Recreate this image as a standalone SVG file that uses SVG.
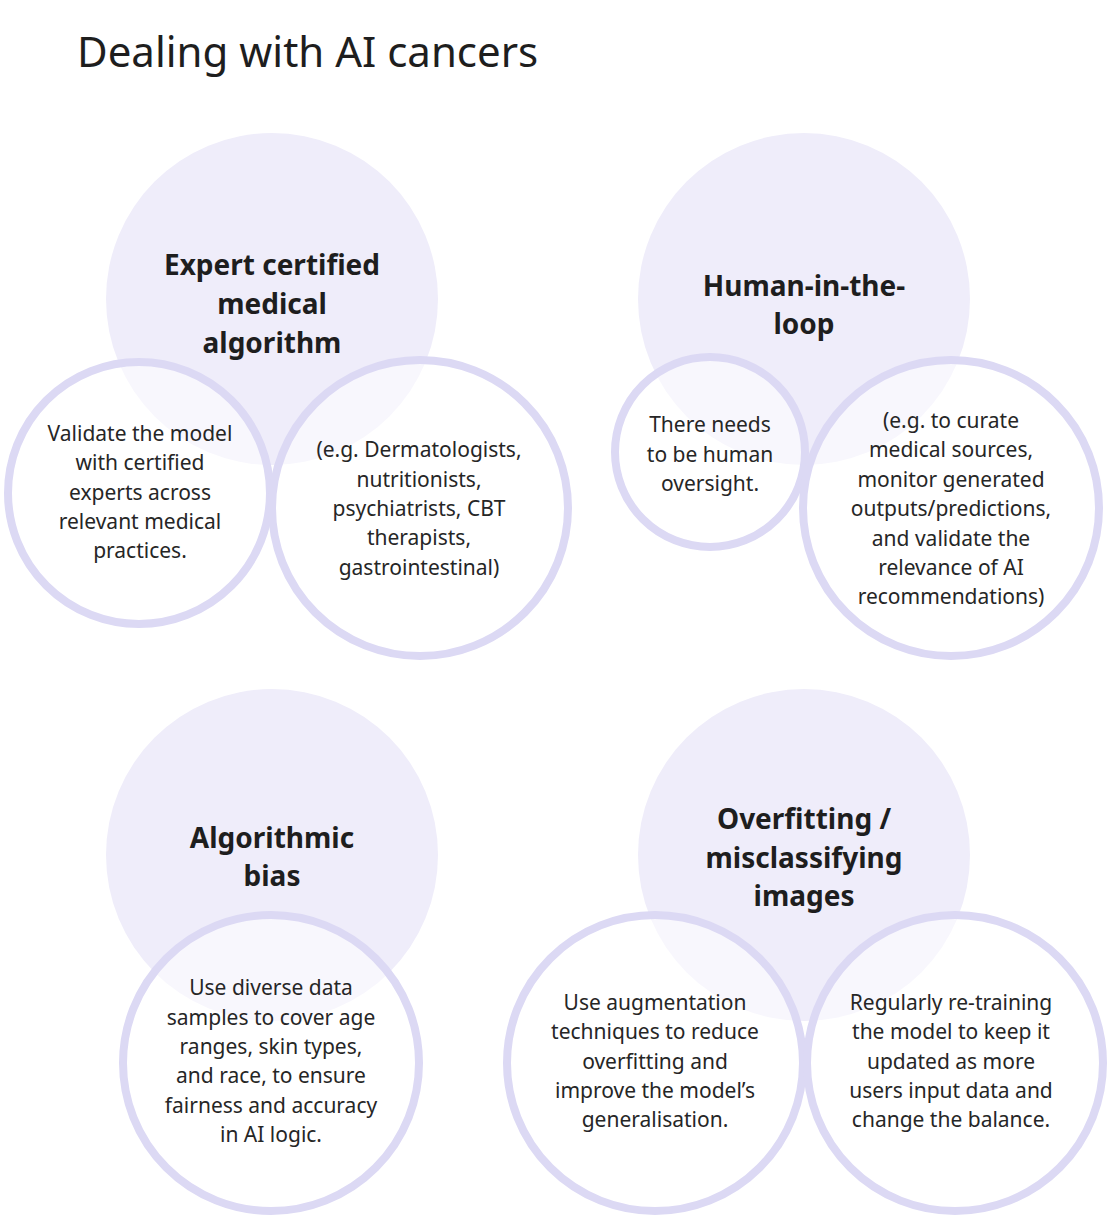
<svg xmlns="http://www.w3.org/2000/svg" width="1111" height="1230" viewBox="0 0 1111 1230">
<style>
.big{fill:#efedfa}
.small{fill:#ffffff;fill-opacity:0.55;stroke:#dcd9f4;stroke-width:8}
.title{font-family:"Noto Sans","Liberation Sans",sans-serif;font-size:42px;fill:#1e1e1e}
.head{font-family:"Noto Sans","Liberation Sans",sans-serif;font-size:28px;font-weight:bold;fill:#1e1e1e;text-anchor:middle}
.body{font-family:"Noto Sans","Liberation Sans",sans-serif;font-size:21px;fill:#262626;text-anchor:middle}
</style>
<rect width="1111" height="1230" fill="#ffffff"/>
<text class="title" x="77" y="67">Dealing with AI cancers</text>

<g id="group-expert">
<circle class="big" cx="272" cy="299" r="166"/>
<text class="head" x="272" y="275">Expert certified</text>
<text class="head" x="272" y="314">medical</text>
<text class="head" x="272" y="353">algorithm</text>
</g>
<g id="node-validate">
<circle class="small" cx="139" cy="493" r="131"/>
<text class="body" x="140" y="441">Validate the model</text>
<text class="body" x="140" y="470">with certified</text>
<text class="body" x="140" y="500">experts across</text>
<text class="body" x="140" y="529">relevant medical</text>
<text class="body" x="140" y="558">practices.</text>
</g>
<g id="node-eg-derm">
<circle class="small" cx="420" cy="508" r="148"/>
<text class="body" x="419" y="457">(e.g. Dermatologists,</text>
<text class="body" x="419" y="487">nutritionists,</text>
<text class="body" x="419" y="516">psychiatrists, CBT</text>
<text class="body" x="419" y="545">therapists,</text>
<text class="body" x="419" y="575">gastrointestinal)</text>
</g>

<g id="group-human">
<circle class="big" cx="804" cy="299" r="166"/>
<text class="head" x="804" y="296">Human-in-the-</text>
<text class="head" x="804" y="334">loop</text>
</g>
<g id="node-oversight">
<circle class="small" cx="710" cy="452" r="95"/>
<text class="body" x="710" y="432">There needs</text>
<text class="body" x="710" y="462">to be human</text>
<text class="body" x="710" y="491">oversight.</text>
</g>
<g id="node-eg-curate">
<circle class="small" cx="951" cy="508" r="148"/>
<text class="body" x="951" y="428">(e.g. to curate</text>
<text class="body" x="951" y="457">medical sources,</text>
<text class="body" x="951" y="487">monitor generated</text>
<text class="body" x="951" y="516">outputs/predictions,</text>
<text class="body" x="951" y="546">and validate the</text>
<text class="body" x="951" y="575">relevance of AI</text>
<text class="body" x="951" y="604">recommendations)</text>
</g>

<g id="group-bias">
<circle class="big" cx="272" cy="855" r="166"/>
<text class="head" x="272" y="848">Algorithmic</text>
<text class="head" x="272" y="886">bias</text>
</g>
<g id="node-diverse">
<circle class="small" cx="271" cy="1063" r="148"/>
<text class="body" x="271" y="995">Use diverse data</text>
<text class="body" x="271" y="1025">samples to cover age</text>
<text class="body" x="271" y="1054">ranges, skin types,</text>
<text class="body" x="271" y="1083">and race, to ensure</text>
<text class="body" x="271" y="1113">fairness and accuracy</text>
<text class="body" x="271" y="1142">in AI logic.</text>
</g>

<g id="group-overfit">
<circle class="big" cx="804" cy="855" r="166"/>
<text class="head" x="804" y="829">Overfitting /</text>
<text class="head" x="804" y="868">misclassifying</text>
<text class="head" x="804" y="906">images</text>
</g>
<g id="node-augment">
<circle class="small" cx="655" cy="1063" r="148"/>
<text class="body" x="655" y="1010">Use augmentation</text>
<text class="body" x="655" y="1039">techniques to reduce</text>
<text class="body" x="655" y="1069">overfitting and</text>
<text class="body" x="655" y="1098">improve the model’s</text>
<text class="body" x="655" y="1127">generalisation.</text>
</g>
<g id="node-retrain">
<circle class="small" cx="955" cy="1063" r="148"/>
<text class="body" x="951" y="1010">Regularly re-training</text>
<text class="body" x="951" y="1039">the model to keep it</text>
<text class="body" x="951" y="1069">updated as more</text>
<text class="body" x="951" y="1098">users input data and</text>
<text class="body" x="951" y="1127">change the balance.</text>
</g>
<g id="connectors"></g>
</svg>
